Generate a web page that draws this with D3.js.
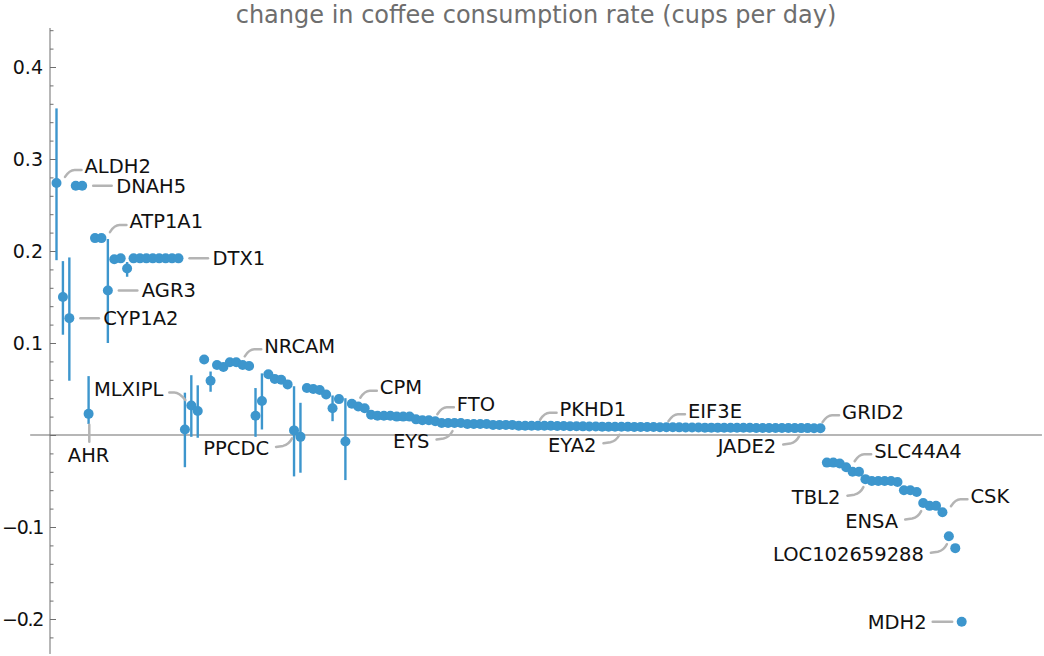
<!DOCTYPE html>
<html>
<head>
<meta charset="utf-8">
<script src="https://cdn.jsdelivr.net/npm/d3@7"></script>
<style>
  body { margin: 0; background: #fff; }
  text { font-family: 'DejaVu Sans', sans-serif; }
</style>
</head>
<body>
<script>
// change in coffee consumption rate per gene, in ranked order
const values = [
  0.274, 0.150, 0.127, 0.271, 0.271, 0.023, 0.214, 0.214, 0.157, 0.191,
  0.192, 0.181, 0.192, 0.192, 0.192, 0.192, 0.192, 0.192, 0.192, 0.192,
  0.006, 0.032, 0.026, 0.082, 0.059, 0.076, 0.074, 0.079, 0.079, 0.076,
  0.075, 0.021, 0.037, 0.066, 0.061, 0.060, 0.055, 0.005, -0.002, 0.051,
  0.050, 0.049, 0.044, 0.029, 0.039, -0.007, 0.034, 0.031, 0.029, 0.022,
  0.021, 0.021, 0.021, 0.020, 0.020, 0.020, 0.017, 0.016, 0.016, 0.015,
  0.013, 0.013, 0.013, 0.013, 0.012, 0.012, 0.012, 0.012, 0.011, 0.011,
  0.011, 0.011, 0.010, 0.010, 0.010, 0.010, 0.010, 0.010, 0.0098, 0.0097,
  0.0096, 0.0095, 0.0094, 0.0093, 0.0092, 0.0091, 0.009, 0.009, 0.009, 0.0089,
  0.0088, 0.0088, 0.0087, 0.0086, 0.0085, 0.0085, 0.0084, 0.0083, 0.0082, 0.0082,
  0.0081, 0.008, 0.008, 0.008, 0.0079, 0.0079, 0.0078, 0.0078, 0.0078, 0.0077,
  0.0077, 0.0077, 0.0076, 0.0076, 0.0076, 0.0075, 0.0075, 0.0075, 0.0074, 0.0074,
  -0.030, -0.030, -0.031, -0.035, -0.040, -0.040, -0.048, -0.050, -0.050, -0.050,
  -0.050, -0.051, -0.060, -0.060, -0.062, -0.074, -0.077, -0.077, -0.084, -0.110,
  -0.123, -0.203
];

// [index, low, high]
const errorBars = [
  [0, 0.190, 0.355], [1, 0.109, 0.189], [2, 0.059, 0.193], [5, 0.012, 0.064],
  [8, 0.100, 0.213], [11, 0.172, 0.188], [20, -0.035, 0.046], [21, -0.002, 0.065],
  [22, -0.003, 0.054], [24, 0.047, 0.069], [26, 0.071, 0.078], [31, -0.002, 0.051],
  [32, 0.006, 0.067], [37, -0.045, 0.053], [38, -0.041, 0.035], [43, 0.015, 0.043],
  [45, -0.049, 0.040]
];

// [gene, index, callout side]
const labels = [
  ['ALDH2', 0, 'ur'], ['DNAH5', 4, 'r'], ['ATP1A1', 7, 'ur'], ['DTX1', 19, 'r'],
  ['AGR3', 8, 'r'], ['CYP1A2', 2, 'r'], ['AHR', 5, 'd'], ['MLXIPL', 21, 'ul'],
  ['PPCDC', 37, 'dl'], ['NRCAM', 28, 'ur'], ['CPM', 46, 'ur'], ['FTO', 58, 'ur'],
  ['EYS', 62, 'dl'], ['PKHD1', 74, 'ur'], ['EYA2', 88, 'dl'], ['EIF3E', 94, 'ur'],
  ['JADE2', 116, 'dl'], ['GRID2', 118, 'ur'], ['SLC44A4', 123, 'ur'], ['TBL2', 126, 'dl'],
  ['CSK', 138, 'ur'], ['ENSA', 135, 'dl'], ['LOC102659288', 139, 'dl'], ['MDH2', 141, 'l']
];

const majorTicks = [-0.2, -0.1, 0, 0.1, 0.2, 0.3, 0.4];
const title = 'change in coffee consumption rate (cups per day)';

const width = 1044, height = 656;
const blue = '#3d96cd', grey = '#6e6e6e', leader = '#b4b4b4';

const svg = d3.select('body').append('svg')
  .attr('width', width)
  .attr('height', height);

const x = d3.scaleLinear().domain([0, values.length - 1]).range([56.5, 961.7]);
const y = d3.scaleLinear().domain([-0.2, 0.4]).range([619, 67]);

svg.append('text')
  .attr('x', 536).attr('y', 23)
  .attr('text-anchor', 'middle')
  .style('font-size', '24px')
  .style('fill', grey)
  .text(title);

// horizontal axis at zero
svg.append('line')
  .attr('x1', x(-4.1)).attr('x2', x(153.5))
  .attr('y1', y(0)).attr('y2', y(0))
  .attr('stroke', grey).attr('stroke-width', 1.2);

// minor ticks
const minor = d3.range(-0.22, 0.4401, 0.02).filter(v => !majorTicks.some(m => Math.abs(m - v) < 1e-6));
svg.append('g')
  .attr('transform', 'translate(50,0)')
  .call(d3.axisLeft(y).tickValues(minor).tickSizeInner(-3.5).tickSizeOuter(0).tickFormat(''))
  .call(g => g.select('.domain').remove())
  .call(g => g.selectAll('line').attr('stroke', grey));

const yAxis = d3.axisLeft(y)
  .tickValues(majorTicks)
  .tickSizeInner(-6)
  .tickSizeOuter(0)
  .tickPadding(7)
  .tickFormat(d => d === 0 ? '' : d3.format('.1f')(d).replace('-', '\u2212'));

svg.append('g')
  .attr('transform', 'translate(50,0)')
  .call(yAxis)
  .call(g => g.select('.domain').attr('d', 'M0,' + y(0.4424) + 'V' + y(-0.238)).attr('stroke', grey))
  .call(g => g.selectAll('line').attr('stroke', grey))
  .call(g => g.selectAll('text').style('font-size', '19px').style('fill', '#111').attr('font-family', null))
  .call(g => g.selectAll('.tick').filter(d => d < 0).select('text').style('letter-spacing', '-1.3px'));

// error bars
svg.append('g').selectAll('line')
  .data(errorBars)
  .enter().append('line')
  .attr('x1', d => x(d[0])).attr('x2', d => x(d[0]))
  .attr('y1', d => y(d[1])).attr('y2', d => y(d[2]))
  .attr('stroke', blue).attr('stroke-width', 2.4);

// callouts
const lg = svg.append('g');
labels.forEach(([name, i, side]) => {
  const px = x(i), py = y(values[i]);
  let path, tx, ty, anchor = 'start';
  if (side === 'ur') {
    path = `M${px + 8.5},${py - 6}Q${px + 13},${py - 13} ${px + 18},${py - 13}L${px + 25},${py - 13}`;
    tx = px + 28; ty = py - 16.5;
  } else if (side === 'ul') {
    path = `M${px - 6},${py - 5.5}Q${px - 12},${py - 13} ${px - 17},${py - 13}L${px - 22},${py - 13}`;
    tx = px - 28; ty = py - 16.5; anchor = 'end';
  } else if (side === 'r') {
    path = `M${px + 11},${py}L${px + 29.5},${py}`;
    tx = px + 34; ty = py;
  } else if (side === 'l') {
    path = `M${px - 9.5},${py}L${px - 29},${py}`;
    tx = px - 35; ty = py; anchor = 'end';
  } else if (side === 'dl') {
    path = `M${px - 18},${py + 16.5}L${px - 11},${py + 15.5}Q${px - 5},${py + 14} ${px - 2},${py + 8}`;
    tx = px - 25; ty = py + 18; anchor = 'end';
  } else {
    path = `M${px + 0.7},${py + 11}L${px + 0.7},${py + 28}`;
    tx = px; ty = py + 41; anchor = 'middle';
  }
  lg.append('path')
    .attr('d', path)
    .attr('fill', 'none')
    .attr('stroke', leader)
    .attr('stroke-width', 2.5)
    .attr('stroke-linecap', 'round');
  lg.append('text')
    .attr('x', tx).attr('y', ty)
    .attr('dy', '0.35em')
    .attr('text-anchor', anchor)
    .style('font-size', '19.5px')
    .style('fill', '#111')
    .text(name);
});

// points
svg.append('g').selectAll('circle')
  .data(values)
  .enter().append('circle')
  .attr('cx', (d, i) => x(i))
  .attr('cy', d => y(d))
  .attr('r', 5)
  .attr('fill', blue);
</script>
</body>
</html>
